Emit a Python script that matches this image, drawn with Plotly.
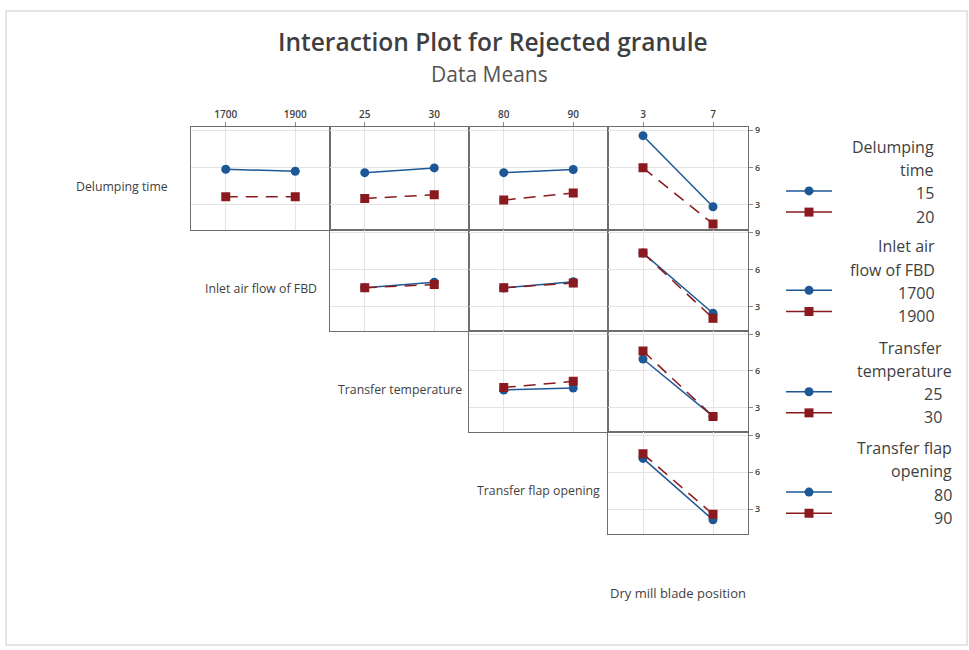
import plotly.graph_objects as go

W, H = 969, 650

# Factors and their two levels (rows use the first four as trace factors,
# columns use the last four as x factors)
factors = ["Delumping time", "Inlet air flow of FBD", "Transfer temperature",
           "Transfer flap opening", "Dry mill blade position"]
levels = [[15, 20], [1700, 1900], [25, 30], [80, 90], [3, 7]]

legend_titles = [["Delumping", "time"], ["Inlet air", "flow of FBD"],
                 ["Transfer", "temperature"], ["Transfer flap", "opening"]]

# Data means of Rejected granule: <trace factor>_<x factor>_<trace level>
dl_inlet_15 = [5.86, 5.70]
dl_inlet_20 = [3.65, 3.65]
dl_temp_15 = [5.59, 5.97]
dl_temp_20 = [3.51, 3.81]
dl_flap_15 = [5.59, 5.84]
dl_flap_20 = [3.38, 3.95]
dl_blade_15 = [8.57, 2.84]
dl_blade_20 = [5.98, 1.46]

in_temp_1700 = [4.52, 4.97]
in_temp_1900 = [4.52, 4.78]
in_flap_1700 = [4.50, 5.00]
in_flap_1900 = [4.52, 4.90]
in_blade_1700 = [7.35, 2.44]
in_blade_1900 = [7.35, 2.03]

tt_flap_25 = [4.45, 4.60]
tt_flap_30 = [4.65, 5.15]
tt_blade_25 = [6.97, 2.30]
tt_blade_30 = [7.62, 2.30]

fl_blade_80 = [7.13, 2.13]
fl_blade_90 = [7.50, 2.58]

y_ticks = [3, 6, 9]

# (row, col) -> (low-level means, high-level means)
means = {
    (0, 0): (dl_inlet_15, dl_inlet_20),
    (0, 1): (dl_temp_15, dl_temp_20),
    (0, 2): (dl_flap_15, dl_flap_20),
    (0, 3): (dl_blade_15, dl_blade_20),
    (1, 1): (in_temp_1700, in_temp_1900),
    (1, 2): (in_flap_1700, in_flap_1900),
    (1, 3): (in_blade_1700, in_blade_1900),
    (2, 2): (tt_flap_25, tt_flap_30),
    (2, 3): (tt_blade_25, tt_blade_30),
    (3, 3): (fl_blade_80, fl_blade_90),
}

BLUE = "#1d5796"
RED = "#8a1a1d"
FRAME = "#6e6e6e"
GRID = "#e4e4e4"
TEXT = "#3f3f3f"
FONT = "Open Sans"

# panel grid in pixels
col_edges = [191, 330, 469, 608, 748]
row_edges = [124, 227, 329, 431, 533]
y_range = [1.0, 9.25]


def px_x(v):
    return v / W


def px_y(v):
    return 1 - v / H


fig = go.Figure()
layout = {}
k = 0
for (r, c), (low, high) in means.items():
    k += 1
    xs = levels[c + 1]
    span = xs[1] - xs[0]
    xname = "x" if k == 1 else f"x{k}"
    yname = "y" if k == 1 else f"y{k}"
    xkey = "xaxis" if k == 1 else f"xaxis{k}"
    ykey = "yaxis" if k == 1 else f"yaxis{k}"

    top_row = r == 0
    last_col = c == 3
    layout[xkey] = dict(
        domain=[px_x(col_edges[c]), px_x(col_edges[c + 1])],
        range=[xs[0] - span / 2, xs[1] + span / 2],
        anchor=yname, tickvals=xs, ticktext=[str(v) for v in xs],
        side="top", showticklabels=top_row,
        ticks="outside" if top_row else "", ticklen=4, tickcolor="#8a8a8a",
        tickfont=dict(size=10, color=TEXT, family=FONT, weight=600),
        showline=True, mirror=True, linecolor=FRAME, linewidth=1.3,
        showgrid=True, gridcolor=GRID, gridwidth=1, zeroline=False,
        fixedrange=True,
    )
    layout[ykey] = dict(
        domain=[px_y(row_edges[r + 1]), px_y(row_edges[r])],
        range=y_range, anchor=xname, tickvals=y_ticks,
        side="right", showticklabels=last_col,
        ticks="outside" if last_col else "", ticklen=4, tickcolor="#8a8a8a",
        tickfont=dict(size=9, color=TEXT, family=FONT, weight=600),
        showline=True, mirror=True, linecolor=FRAME, linewidth=1.3,
        showgrid=True, gridcolor=GRID, gridwidth=1, zeroline=False,
        fixedrange=True,
    )

    fig.add_trace(go.Scatter(
        x=xs, y=low, xaxis=xname, yaxis=yname, mode="lines+markers",
        line=dict(color=BLUE, width=1.5),
        marker=dict(symbol="circle", size=9, color=BLUE),
        name=f"{factors[r]} {levels[r][0]}", showlegend=False,
        hoverinfo="x+y",
    ))
    fig.add_trace(go.Scatter(
        x=xs, y=high, xaxis=xname, yaxis=yname, mode="lines+markers",
        line=dict(color=RED, width=1.5, dash="12px,8px"),
        marker=dict(symbol="square", size=9, color=RED),
        name=f"{factors[r]} {levels[r][1]}", showlegend=False,
        hoverinfo="x+y",
    ))

# overlay axis in pixel units for the legend keys
k += 1
lx, ly = f"x{k}", f"y{k}"
layout[f"xaxis{k}"] = dict(domain=[0, 1], range=[0, W], visible=False,
                           anchor=ly, fixedrange=True)
layout[f"yaxis{k}"] = dict(domain=[0, 1], range=[H, 0], visible=False,
                           anchor=lx, fixedrange=True)

annotations = []

# title and subtitle
annotations.append(dict(text="Interaction Plot for Rejected granule",
                        x=px_x(493), y=px_y(38), xref="paper", yref="paper",
                        showarrow=False, xanchor="center", yanchor="middle",
                        font=dict(size=24.5, color=TEXT, family=FONT, weight=600)))
annotations.append(dict(text="Data Means", x=px_x(489), y=px_y(70),
                        xref="paper", yref="paper", showarrow=False,
                        xanchor="center", yanchor="middle",
                        font=dict(size=21, color="#555555", family=FONT)))

# row labels, centred in the empty cell to the left of each row
for r in range(4):
    cx = (col_edges[r] + (col_edges[r] - (col_edges[1] - col_edges[0]))) / 2
    cy = (row_edges[r] + row_edges[r + 1]) / 2 + 8
    annotations.append(dict(text=factors[r], x=px_x(cx), y=px_y(cy),
                            xref="paper", yref="paper", showarrow=False,
                            xanchor="center", yanchor="middle",
                            font=dict(size=12.3, color=TEXT, family=FONT)))

# x factor label of the last column
annotations.append(dict(text=factors[4], x=px_x((col_edges[3] + col_edges[4]) / 2),
                        y=px_y(593), xref="paper", yref="paper", showarrow=False,
                        xanchor="center", yanchor="middle",
                        font=dict(size=13, color=TEXT, family=FONT)))

# legend blocks on the right
block_tops = [144, 244, 346, 447]
block_right = [936, 937, 944, 954]
line_gap = 23.3
for b in range(4):
    y0 = block_tops[b]
    lines = legend_titles[b] + [str(levels[b][0]), str(levels[b][1])]
    for i, t in enumerate(lines):
        xr = block_right[b]
        if t == "temperature":
            xr = 954
        annotations.append(dict(text=t, x=px_x(xr), y=px_y(y0 + i * line_gap),
                                xref="paper", yref="paper", showarrow=False,
                                xanchor="right", yanchor="middle",
                                font=dict(size=16, color=TEXT, family=FONT)))
    yb = y0 + 2 * line_gap - 2.5
    yr = y0 + 3 * line_gap - 4.5
    fig.add_trace(go.Scatter(x=[786, 832], y=[yb, yb], xaxis=lx, yaxis=ly,
                             mode="lines", line=dict(color=BLUE, width=1.5),
                             showlegend=False, hoverinfo="skip"))
    fig.add_trace(go.Scatter(x=[809], y=[yb], xaxis=lx, yaxis=ly, mode="markers",
                             marker=dict(symbol="circle", size=9, color=BLUE),
                             showlegend=False, hoverinfo="skip"))
    fig.add_trace(go.Scatter(x=[786, 832], y=[yr, yr], xaxis=lx, yaxis=ly,
                             mode="lines", line=dict(color=RED, width=1.5),
                             showlegend=False, hoverinfo="skip"))
    fig.add_trace(go.Scatter(x=[809], y=[yr], xaxis=lx, yaxis=ly, mode="markers",
                             marker=dict(symbol="square", size=9, color=RED),
                             showlegend=False, hoverinfo="skip"))

shapes = [dict(type="rect", xref="paper", yref="paper",
               x0=px_x(6), x1=px_x(967), y0=px_y(645), y1=px_y(7),
               line=dict(color="#dddddd", width=1.5))]

fig.update_layout(
    width=W, height=H, margin=dict(l=0, r=0, t=0, b=0),
    paper_bgcolor="white", plot_bgcolor="rgba(0,0,0,0)",
    annotations=annotations, shapes=shapes,
    font=dict(family=FONT, color=TEXT),
    **layout,
)

fig.write_html("out.html")
